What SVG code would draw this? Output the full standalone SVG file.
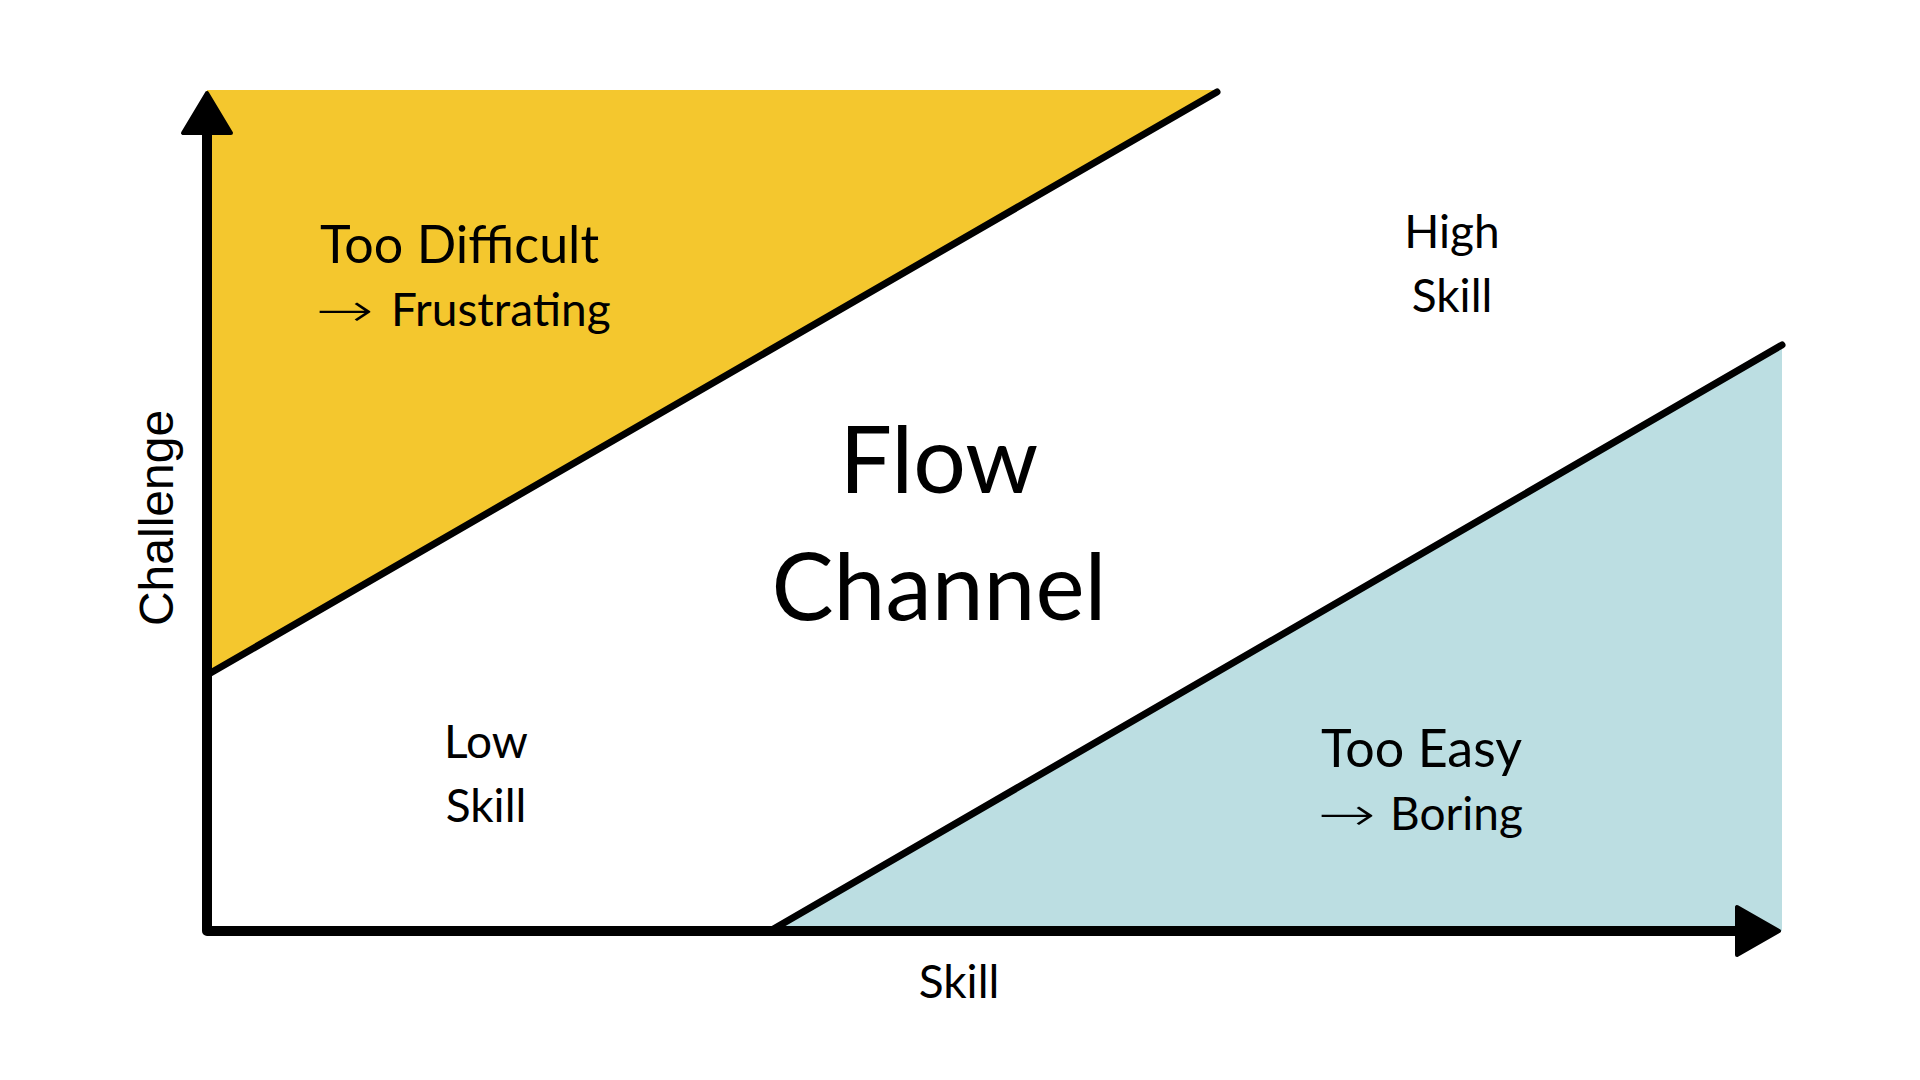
<svg xmlns="http://www.w3.org/2000/svg" width="1920" height="1080" viewBox="0 0 1920 1080">
  <style>
    .lbl { font-family: Lato, "Open Sans", "DejaVu Sans", sans-serif; fill: #000; }
    .big { font-size: 52px; }
    .mid { font-size: 46px; }
    .huge { font-size: 93px; }
    .arr { font-family: "DejaVu Sans", sans-serif; font-weight: 200; }
    .axis-lbl { font-family: "Liberation Sans", Arial, sans-serif; font-size: 48px; fill: #000; }
    .edge { stroke: #000; stroke-width: 7; stroke-linecap: round; fill: none; }
    .axis { stroke: #000; stroke-width: 10; stroke-linejoin: round; stroke-linecap: butt; fill: none; }
    .head { fill: #000; stroke: #000; stroke-width: 4; stroke-linejoin: round; }
  </style>
  <rect width="1920" height="1080" fill="#fff"/>

  <g id="too-difficult">
    <polygon points="207,90 1217,90 207,675" fill="#F4C72E"/>
    <text class="lbl big" x="320" y="263">Too Difficult</text>
    <text class="lbl mid" x="316" y="326"><tspan class="arr" textLength="58" lengthAdjust="spacingAndGlyphs">→</tspan><tspan x="391">Frustrating</tspan></text>
  </g>

  <g id="too-easy">
    <polygon points="770,931 1782,345 1782,931" fill="#BCDEE2"/>
    <text class="lbl big" x="1321" y="767">Too Easy</text>
    <text class="lbl mid" x="1318" y="830"><tspan class="arr" textLength="58" lengthAdjust="spacingAndGlyphs">→</tspan><tspan x="1390">Boring</tspan></text>
  </g>

  <g id="flow-channel">
    <text class="lbl huge" x="939" y="493" text-anchor="middle">Flow</text>
    <text class="lbl huge" x="939" y="620" text-anchor="middle">Channel</text>
  </g>

  <g id="high-skill">
    <text class="lbl mid" x="1452" y="248" text-anchor="middle">High</text>
    <text class="lbl mid" x="1452" y="312" text-anchor="middle">Skill</text>
  </g>

  <g id="low-skill">
    <text class="lbl mid" x="486" y="758" text-anchor="middle">Low</text>
    <text class="lbl mid" x="486" y="822" text-anchor="middle">Skill</text>
  </g>

  <g id="connectors">
    <line class="edge" x1="207" y1="675" x2="1217" y2="92"/>
    <line class="edge" x1="770" y1="931" x2="1782" y2="345"/>
    <path class="axis" d="M207,135 L207,931 L1737,931"/>
    <polygon class="head" points="207,93 183,133 231,133"/>
    <polygon class="head" points="1779,931 1737,907 1737,955"/>
  </g>

  <g id="axis-labels">
    <text class="lbl mid" x="959" y="998" text-anchor="middle">Skill</text>
    <text class="axis-lbl" transform="translate(173,518) rotate(-90)" text-anchor="middle">Challenge</text>
  </g>
</svg>
